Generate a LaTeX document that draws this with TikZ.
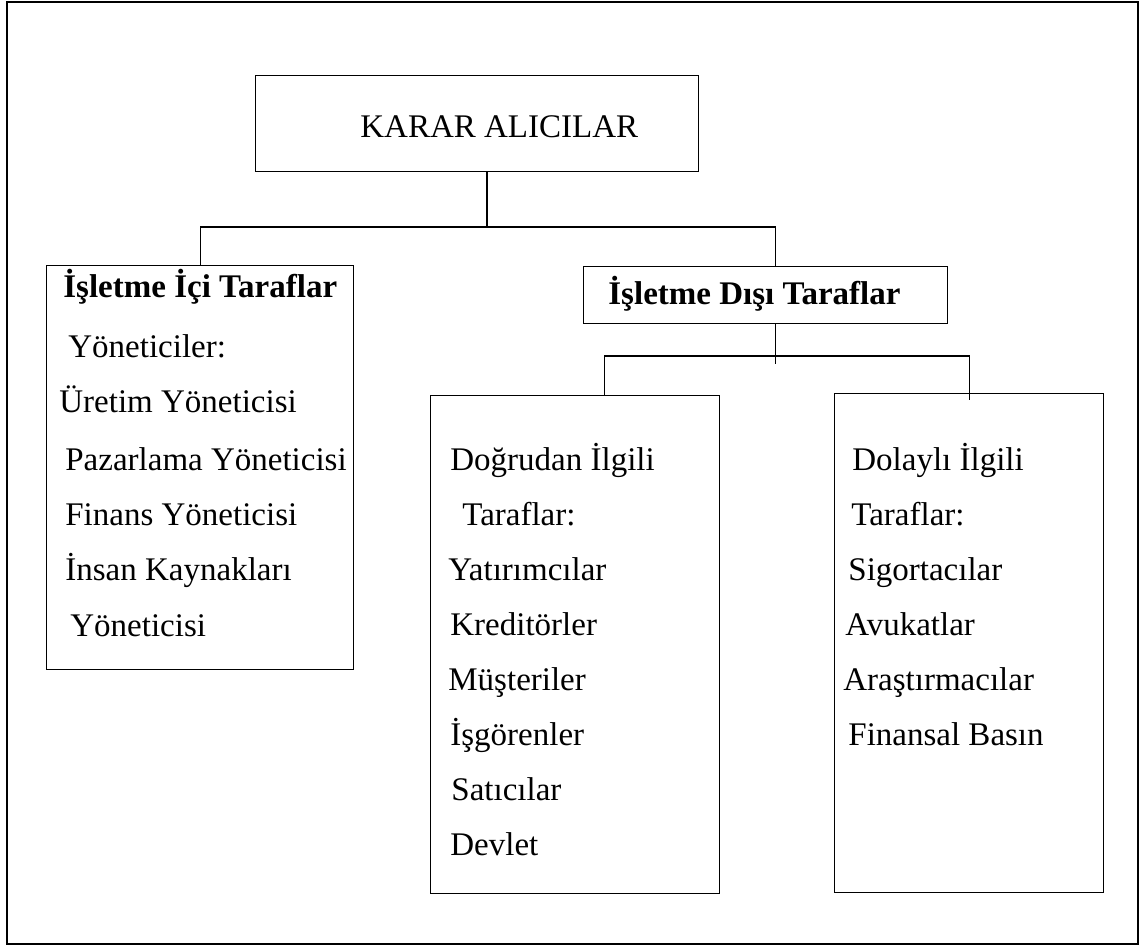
\documentclass[tikz,border=0pt]{standalone}
\usepackage{fontspec}
\setmainfont{Liberation Serif}

\begin{document}
\begin{tikzpicture}[
  x=0.5pt, y=-0.5pt,
  frame/.style={draw, line width=0.7pt, inner sep=0pt, anchor=north west},
  txt/.style={inner sep=0pt, anchor=base west, font=\fontsize{16.5pt}{20pt}\selectfont},
  head/.style={txt, font=\fontsize{16.5pt}{20pt}\selectfont\bfseries},
  wire/.style={line width=0.7pt}
]
\useasboundingbox (0,0) rectangle (1140,946);
\draw[line width=0.8pt] (7,2) rectangle (1138,944);

% boxes
\node[frame, minimum width=221.5pt, minimum height=48pt] (karar) at (255,75) {};
\node[frame, minimum width=153.5pt, minimum height=202pt] (ic) at (46,265) {};
\node[frame, minimum width=182pt, minimum height=28.5pt] (disi) at (583,266) {};
\node[frame, minimum width=144.5pt, minimum height=249pt] (dogrudan) at (430,395) {};
\node[frame, minimum width=134.5pt, minimum height=249.5pt] (dolayli) at (834,393) {};

% texts
\node[txt] (kararlbl) at (360,138) {KARAR ALICILAR};
\node[head] (iclbl) at (63,298) {İşletme İçi Taraflar};
\node[head] (disilbl) at (608,305) {İşletme Dışı Taraflar};

\foreach \t/\x/\y [count=\i] in {Yöneticiler:/68/358, Üretim Yöneticisi/59/413,
    Pazarlama Yöneticisi/65/470, Finans Yöneticisi/65/525,
    İnsan Kaynakları/65/580, Yöneticisi/70/636}
  \node[txt] (ic\i) at (\x,\y) {\t};

\foreach \t/\x/\y [count=\i] in {Doğrudan İlgili/450/470, Taraflar:/462/525,
    Yatırımcılar/448/580, Kreditörler/450/635, Müşteriler/448/690,
    İşgörenler/450/745, Satıcılar/451/800, Devlet/450/855}
  \node[txt] (dg\i) at (\x,\y) {\t};

\foreach \t/\x/\y [count=\i] in {Dolaylı İlgili/852/470, Taraflar:/851/525,
    Sigortacılar/848/580, Avukatlar/845/635, Araştırmacılar/843/690,
    Finansal Basın/848/745}
  \node[txt] (dl\i) at (\x,\y) {\t};

% connectors
\coordinate (bus1) at (487,227);
\coordinate (bus2) at (775,356);
\draw[wire] (bus1 |- karar.south) -- (bus1);
\draw[wire] (ic.north) |- (bus1) -| ([xshift=5pt]disi.north);
\draw[wire] ([xshift=5pt]disi.south) -- ++(0,40);
\draw[wire] ([xshift=14.5pt]dogrudan.north) |- (bus2) -| ([yshift=-3.5pt]dolayli.north);
\end{tikzpicture}
\end{document}
